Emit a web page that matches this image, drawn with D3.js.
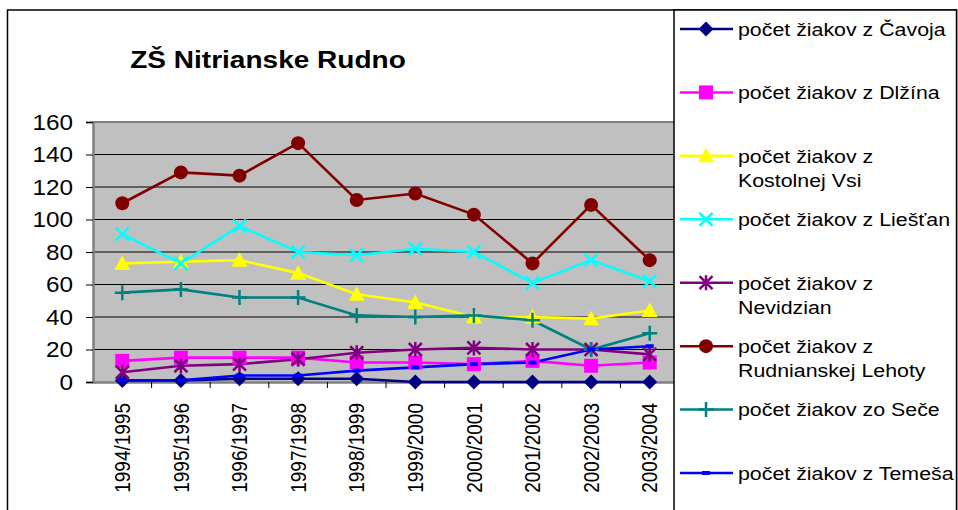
<!DOCTYPE html>
<html>
<head>
<meta charset="utf-8">
<script src="https://cdn.jsdelivr.net/npm/d3@7"></script>
<style>
  body { margin: 0; background: #fff; }
  text { font-family: "Liberation Sans", Arial, sans-serif; fill: #000; }
</style>
</head>
<body>
<div id="container"></div>
<script>
// data
var years = ["1994/1995", "1995/1996", "1996/1997", "1997/1998", "1998/1999",
             "1999/2000", "2000/2001", "2001/2002", "2002/2003", "2003/2004"];
var yTicks = [0, 20, 40, 60, 80, 100, 120, 140, 160];

var cavoj      = [1, 1, 2, 2, 2, 0, 0, 0, 0, 0];
var dlzina     = [13, 15, 15, 15, 12, 12, 11, 13, 10, 12];
var kostolna   = [73, 74, 75, 67, 54, 49, 40, 40, 39, 44];
var liestany   = [91, 73, 96, 80, 78, 82, 80, 61, 75, 62];
var nevidzany  = [6, 10, 11, 14, 18, 20, 21, 20, 20, 17];
var rudnianska = [110, 129, 127, 147, 112, 116, 103, 73, 109, 75];
var sec        = [55, 57, 52, 52, 41, 40, 41, 38, 20, 30];
var temes      = [1, 1, 4, 4, 7, 9, 11, 12, 20, 22];

var seriesNames = [
  ["počet žiakov z Čavoja"],
  ["počet žiakov z Dlžína"],
  ["počet žiakov z", "Kostolnej Vsi"],
  ["počet žiakov z Liešťan"],
  ["počet žiakov z", "Nevidzian"],
  ["počet žiakov z", "Rudnianskej Lehoty"],
  ["počet žiakov zo Seče"],
  ["počet žiakov z Temeša"]
];
var seriesColors = ["#000080", "#ff00ff", "#ffff00", "#00ffff", "#800080", "#800000", "#008080", "#0000ff"];
var seriesMarkers = ["diamond", "square", "triangle", "x", "star", "circle", "plus", "dash"];
var seriesValues = [cavoj, dlzina, kostolna, liestany, nevidzany, rudnianska, sec, temes];

var W = 958, H = 510;
var plot = {left: 93, right: 679, top: 122, bottom: 382};
var stretch = 1.13;   // the picture's text is a bit wider than normal

var svg = d3.select("#container")
  .append("svg")
    .attr("width", W)
    .attr("height", H);

// outer chart border
svg.append("rect")
  .attr("x", 7.5).attr("y", 10)
  .attr("width", 949).attr("height", 520)
  .attr("fill", "#fff")
  .attr("stroke", "#000").attr("stroke-width", 1.5);

var x = d3.scalePoint()
  .domain(years)
  .range([plot.left, plot.right])
  .padding(0.5);
var band = x.step();

var y = d3.scaleLinear()
  .domain([0, 160])
  .range([plot.bottom, plot.top]);

// plot area
svg.append("rect")
  .attr("x", plot.left).attr("y", plot.top)
  .attr("width", plot.right - plot.left).attr("height", plot.bottom - plot.top)
  .attr("fill", "#c0c0c0");

// gridlines
svg.append("g")
  .selectAll("line")
  .data(yTicks.filter(function (d) { return d > 0 && d < 160; }))
  .enter()
  .append("line")
    .attr("x1", plot.left).attr("x2", plot.right)
    .attr("y1", function (d) { return y(d); })
    .attr("y2", function (d) { return y(d); })
    .attr("stroke", "#000").attr("stroke-width", 1);

// top border of the plot
svg.append("line")
  .attr("x1", plot.left).attr("x2", plot.right)
  .attr("y1", plot.top).attr("y2", plot.top)
  .attr("stroke", "#808080").attr("stroke-width", 2);

// Y axis
var yAxis = svg.append("g")
  .attr("transform", "translate(" + plot.left + ",0)")
  .call(d3.axisLeft(y).tickValues(yTicks).tickSize(7).tickFormat(""));
yAxis.select(".domain").attr("stroke", "#808080").attr("stroke-width", 2.5);
yAxis.selectAll(".tick line").attr("stroke", "#000");

svg.append("g")
  .selectAll("text")
  .data(yTicks)
  .enter()
  .append("text")
    .attr("transform", function (d) { return "translate(73," + y(d) + ") scale(" + stretch + ",1)"; })
    .attr("dy", "0.36em")
    .attr("text-anchor", "end")
    .style("font-size", "21.5px")
    .text(function (d) { return d; });

// X axis, ticks between categories
var xb = d3.scaleBand().domain(years).range([plot.left, plot.right]);
var xAxis = svg.append("g")
  .attr("transform", "translate(0," + plot.bottom + ")")
  .call(d3.axisBottom(xb).tickSize(0).tickFormat(""));
xAxis.select(".domain").attr("stroke", "#808080").attr("stroke-width", 2.5);
svg.append("g")
  .selectAll("line")
  .data(years)
  .enter()
  .append("line")
    .attr("x1", function (d) { return xb(d) + band; })
    .attr("x2", function (d) { return xb(d) + band; })
    .attr("y1", plot.bottom).attr("y2", plot.bottom + 6)
    .attr("stroke", "#000");

svg.append("g")
  .selectAll("text")
  .data(years)
  .enter()
  .append("text")
    .attr("transform", function (d) { return "translate(" + x(d) + ",403) rotate(-90) scale(1," + stretch + ")"; })
    .attr("dy", "0.36em")
    .attr("text-anchor", "end")
    .style("font-size", "19px")
    .text(function (d) { return d; });

// markers
function drawMarker(g, type, color) {
  if (type == "diamond") {
    g.append("path").attr("d", "M0,-7.5L7.5,0L0,7.5L-7.5,0Z").attr("fill", color);
  } else if (type == "square") {
    g.append("rect").attr("x", -7).attr("y", -7).attr("width", 14).attr("height", 14).attr("fill", color);
  } else if (type == "triangle") {
    g.append("path").attr("d", "M0,-8L8,6.5L-8,6.5Z").attr("fill", color);
  } else if (type == "circle") {
    g.append("circle").attr("r", 7).attr("fill", color);
  } else if (type == "x") {
    g.append("path").attr("d", "M-6.5,-6.5L6.5,6.5M-6.5,6.5L6.5,-6.5").attr("stroke", color).attr("stroke-width", 2.5);
  } else if (type == "star") {
    g.append("path").attr("d", "M-6.5,-6.5L6.5,6.5M-6.5,6.5L6.5,-6.5M0,-7.5L0,7.5").attr("stroke", color).attr("stroke-width", 2.5);
  } else if (type == "plus") {
    g.append("path").attr("d", "M-7.5,0L7.5,0M0,-7.5L0,7.5").attr("stroke", color).attr("stroke-width", 2.5);
  } else if (type == "dash") {
    g.append("rect").attr("x", -4).attr("y", -2).attr("width", 8).attr("height", 4).attr("fill", color);
  }
}

var line = d3.line()
  .x(function (d, i) { return x(years[i]); })
  .y(function (d) { return y(d); });

// lines first, then markers on top
seriesValues.forEach(function (vals, s) {
  svg.append("path")
    .datum(vals)
    .attr("d", line)
    .attr("fill", "none")
    .attr("stroke", seriesColors[s])
    .attr("stroke-width", 2.6);
});
seriesValues.forEach(function (vals, s) {
  vals.forEach(function (v, i) {
    var g = svg.append("g").attr("transform", "translate(" + x(years[i]) + "," + y(v) + ")");
    drawMarker(g, seriesMarkers[s], seriesColors[s]);
  });
});

// Legend box (covers the right strip of the plot like in the original)
svg.append("rect")
  .attr("x", 674).attr("y", 10)
  .attr("width", 282.5).attr("height", 520)
  .attr("fill", "#fff")
  .attr("stroke", "#000").attr("stroke-width", 1.5);

var legendY = d3.scaleLinear().domain([0, 7]).range([29, 473]);
seriesNames.forEach(function (lines, s) {
  var ly = legendY(s);
  svg.append("line")
    .attr("x1", 680).attr("x2", 733)
    .attr("y1", ly).attr("y2", ly)
    .attr("stroke", seriesColors[s]).attr("stroke-width", 2.5);
  drawMarker(svg.append("g").attr("transform", "translate(706," + ly + ")"), seriesMarkers[s], seriesColors[s]);
  lines.forEach(function (t, k) {
    svg.append("text")
      .attr("transform", "translate(738," + (ly + k * 24.5) + ") scale(" + stretch + ",1)")
      .attr("dy", "0.36em")
      .style("font-size", "18.9px")
      .text(t);
  });
});

// title
svg.append("text")
  .attr("transform", "translate(268,67.5) scale(" + stretch + ",1)")
  .attr("text-anchor", "middle")
  .style("font-size", "24.8px")
  .style("font-weight", "bold")
  .text("ZŠ Nitrianske Rudno");
</script>
</body>
</html>
